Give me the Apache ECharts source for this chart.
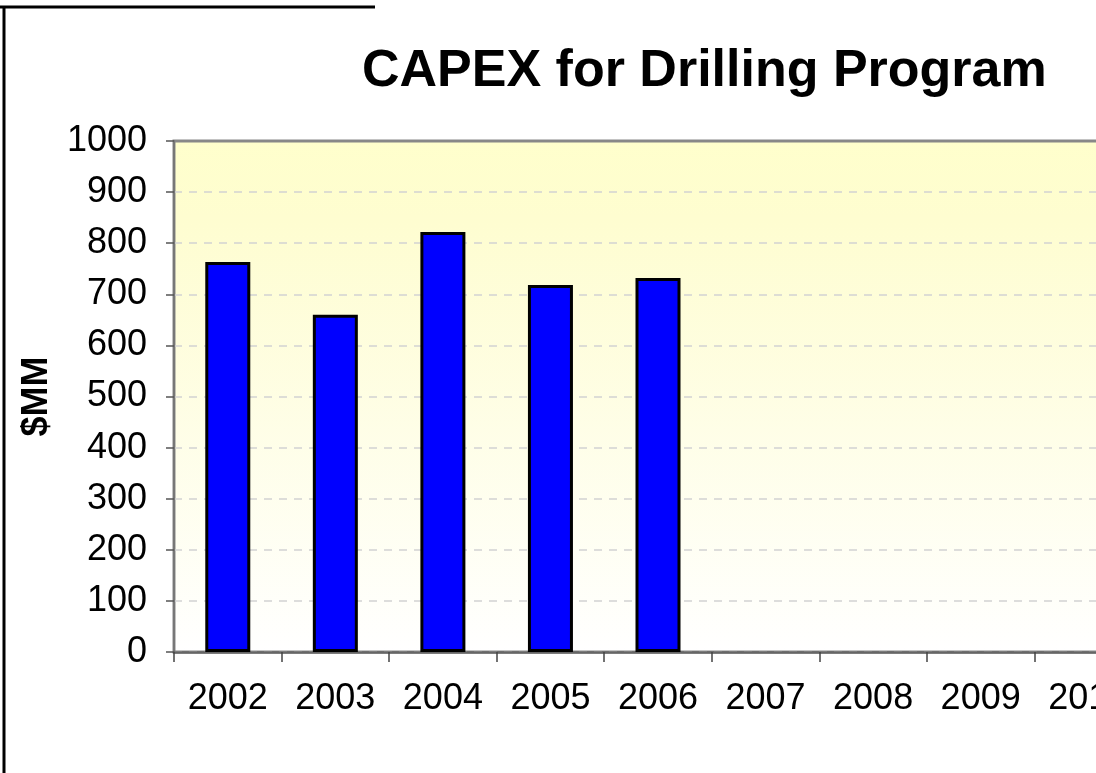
<!DOCTYPE html>
<html>
<head>
<meta charset="utf-8">
<script src="https://cdn.jsdelivr.net/npm/echarts@6/dist/echarts.min.js"></script>
<style>
  html, body { margin: 0; padding: 0; background: #fff; }
  #chart { width: 1096px; height: 773px; }
</style>
</head>
<body>
<div id="chart"></div>
<script>
// values
const years = ['2002', '2003', '2004', '2005', '2006', '2007', '2008', '2009', '2010'];
const capex = [763, 660, 822, 718, 732, null, null, null, null];
const yTicks = { min: 0, max: 1000, step: 100 };

const chart = echarts.init(document.getElementById('chart'));

chart.setOption({
    animation: false,
    title: {
        text: 'CAPEX for Drilling Program',
        left: 357,
        top: 41,
        textStyle: { fontFamily: 'Liberation Sans', fontWeight: 'bold', fontSize: 52, color: '#000' }
    },
    grid: {
        // plot runs past the right edge of the picture, like the cropped original
        left: 174, top: 141, width: 968, bottom: 121,
        outerBoundsMode: 'none',
        containLabel: false,
        show: true,
        borderColor: '#888',
        borderWidth: 3,
        backgroundColor: new echarts.graphic.LinearGradient(0, 0, 0, 1, [
            { offset: 0, color: '#ffffcc' },
            { offset: 0.15, color: '#fefdd0' },
            { offset: 1, color: '#ffffff' }
        ])
    },
    xAxis: {
        type: 'category',
        data: years,
        axisLine: { lineStyle: { color: '#666', width: 2.5 } },
        axisTick: { show: true, length: 10, interval: 0, lineStyle: { color: '#444', width: 1.5 } },
        axisLabel: { fontFamily: 'Liberation Sans', fontSize: 36, color: '#000', margin: 29, interval: 0 }
    },
    yAxis: {
        type: 'value',
        min: yTicks.min, max: yTicks.max, interval: yTicks.step,
        name: '$MM',
        nameLocation: 'middle',
        nameGap: 119,
        nameRotate: 90,
        nameTextStyle: { fontFamily: 'Liberation Sans', fontWeight: 'bold', fontSize: 36, color: '#000' },
        axisLine: { show: true, lineStyle: { color: '#777', width: 2 } },
        axisTick: { show: true, length: 8, lineStyle: { color: '#555', width: 1.5 } },
        axisLabel: {
            fontFamily: 'Liberation Sans', fontSize: 36, color: '#000', margin: 27,
            formatter: v => String(v)
        },
        splitLine: { showMaxLine: false, lineStyle: { color: '#d2d2d2', type: [8, 7], width: 1.5 } }
    },
    series: [{
        type: 'bar',
        data: capex,
        barWidth: 45,
        itemStyle: { color: '#0000ff', borderColor: '#000', borderWidth: 3 }
    }],
    graphic: [
        { type: 'line', shape: { x1: 4, y1: 7, x2: 4, y2: 773 }, style: { stroke: '#000', lineWidth: 3 } },
        { type: 'line', shape: { x1: 0, y1: 7, x2: 375, y2: 7 }, style: { stroke: '#000', lineWidth: 3 } }
    ]
});
</script>
</body>
</html>
